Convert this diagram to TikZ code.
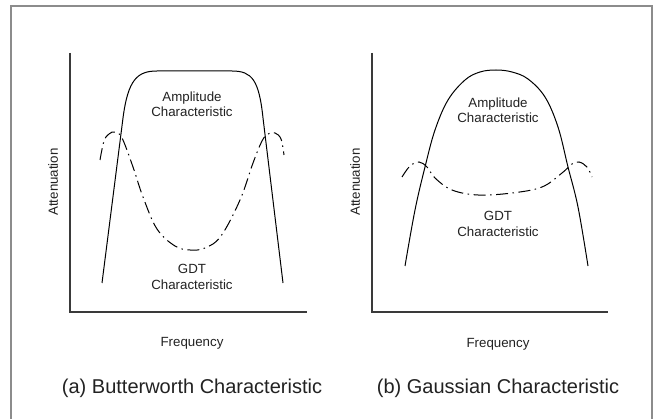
\documentclass[tikz,border=0pt]{standalone}
\usepackage{fontspec}
\setmainfont{Liberation Sans}
\definecolor{framegray}{HTML}{8C8C8C}
\definecolor{axisgray}{HTML}{3A3A3A}
\definecolor{txt}{HTML}{222222}
\begin{document}
\begin{tikzpicture}[x=1pt,y=-1pt,
  frameline/.style={draw=framegray,line width=2pt},
  axisline/.style={draw=axisgray,line width=1.1pt},
  ampcurve/.style={draw=black,line width=1pt},
  gdtcurve/.style={draw=black,line width=1pt,dash pattern=on 12pt off 4.5pt on 1.5pt off 4.5pt},
  lbl/.style={text=txt,font=\fontsize{13.3}{15.5}\selectfont,inner sep=0pt,align=center},
  captext/.style={text=txt,font=\fontsize{20}{24}\selectfont,inner sep=0pt}]
\useasboundingbox (0,0) rectangle (655,419);
\fill[white] (0,0) rectangle (655,419);
% outer frame
\draw[frameline] (11,420) -- (11,6) -- (652,6) -- (652,420);
% ---------- (a) Butterworth ----------
\draw[axisline] (70,53) -- (70,312) -- (307,312);
\draw[ampcurve] (102,283) -- (123,118) .. controls (128,80) and (137,71) .. (157,71)
  -- (232,71) .. controls (252,71) and (259,80) .. (263,118) -- (283,283);
\draw[gdtcurve] plot[smooth,tension=0.6] coordinates {(100,160) (104,141) (109,134) (115,132) (122,138)
  (133,167) (143,197) (157,229) (175,246) (190,250) (205,248) (221,236) (240,200)
  (253,163) (262,141) (268,134) (275,133) (281,139) (284,155)};
\node[lbl] (ampA) at (192,104) {Amplitude\\Characteristic};
\node[lbl] (gdtA) at (192,277) {GDT\\Characteristic};
\node[lbl,rotate=90] (attA) at (53,182) {Attenuation};
\node[lbl] (freqA) at (192,343) {Frequency};
\node[captext] (capA) at (192,388) {(a) Butterworth Characteristic};
% ---------- (b) Gaussian ----------
\draw[axisline] (372,53) -- (372,312) -- (608,312);
\draw[ampcurve] plot[smooth,tension=0.6] coordinates {(405,266) (415,210) (425,167) (435,130)
  (448,100) (465,80) (480,72) (496,70) (512,72) (528,79) (545,97) (558,127)
  (568,167) (578,207) (588,266)};
\draw[gdtcurve] plot[smooth,tension=0.6] coordinates {(402,177) (410,166) (419,162) (427,167)
  (435,178) (452,190) (478,195) (512,193) (542,187) (562,173) (572,164)
  (579,162) (587,167) (592,177)};
\node[lbl] (ampB) at (498,110) {Amplitude\\Characteristic};
\node[lbl] (gdtB) at (498,224) {GDT\\Characteristic};
\node[lbl,rotate=90] (attB) at (355,182) {Attenuation};
\node[lbl] (freqB) at (498,344) {Frequency};
\node[captext] (capB) at (498,388) {(b) Gaussian Characteristic};
\end{tikzpicture}
\end{document}
